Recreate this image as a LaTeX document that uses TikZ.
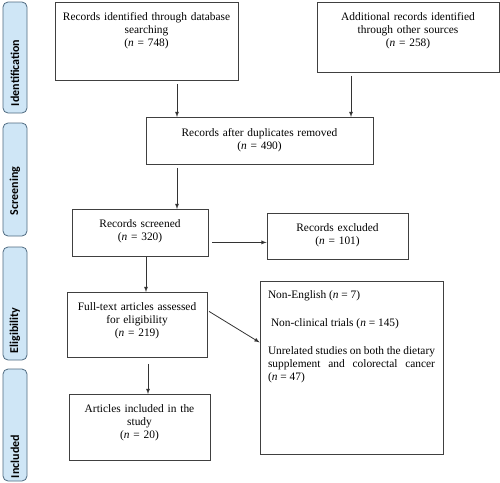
\documentclass[tikz,border=0pt]{standalone}
\usepackage{fontspec}
\setmainfont{Liberation Serif}
\newfontfamily\phasefont{Carlito}
\usepackage{tikz}
\usetikzlibrary{positioning}
\usetikzlibrary{arrows}

\definecolor{phasefill}{HTML}{CFE6F6}
\definecolor{phaseline}{HTML}{4F6A80}
\definecolor{boxline}{HTML}{404040}

\tikzset{
  box/.style={draw=boxline, line width=0.8pt, anchor=north, align=center,
    inner xsep=4pt, inner ysep=4pt, font=\fontsize{11.4}{13}\selectfont},
  phase/.style={draw=phaseline, fill=phasefill, line width=0.8pt,
    rounded corners=5pt, rotate=90, minimum height=24pt, inner ysep=0pt,
    inner xsep=7pt, align=flush left,
    font=\phasefont\bfseries\fontsize{12}{14}\selectfont},
  flow/.style={->, >=latex, draw=black!80, line width=0.8pt},
}

\begin{document}
\begin{tikzpicture}[x=1pt, y=-1pt]
    \useasboundingbox (0,0) rectangle (500,482);

    % Phases
    \node[phase, text width=97pt] (P1) at (15,57.5) {Identification};
    \node[phase, text width=99pt] (P2) at (15,179.5) {\hspace*{14pt}Screening};
    \node[phase, text width=99pt] (P3) at (15,303.5) {Eligibility};
    \node[phase, text width=98pt] (P4) at (15,425) {\hspace*{-4pt}Included};

    % Nodes
    \node[box, text width=175pt, text height=14pt, text depth=56pt] (ident) at (146.5,2)
        {Records identified through database\\searching\\(\textit{n} = 748)};
    \node[box, text width=174pt, text height=14pt, text depth=48pt] (other) at (408,2)
        {Additional records identified\\through other sources\\(\textit{n} = 258)};
    \node[box, text width=219pt, text height=15pt, text depth=24pt] (dupl) at (259.5,117)
        {Records after duplicates removed\\(\textit{n} = 490)};
    \node[box, text width=128pt, text height=14pt, text depth=25pt] (screen) at (140,209)
        {Records screened\\(\textit{n} = 320)};
    \node[box, text width=133pt, text height=14pt, text depth=24pt] (excl) at (337.5,213)
        {Records excluded\\(\textit{n} = 101)};
    \node[box, text width=132pt, text height=14pt, text depth=43pt] (full) at (137,292)
        {Full-text articles assessed\\for eligibility\\(\textit{n} = 219)};
    \node[box, text width=133pt, text height=14pt, text depth=44pt] (incl) at (139.5,394)
        {Articles included in the\\study\\(\textit{n} = 20)};
    \node[box, align=justify, inner xsep=8pt, text width=167pt, text height=13pt, text depth=152pt] (reasons) at (351.5,281)
        {Non-English (\textit{n} = 7)\par\vspace{15pt}
         \hspace*{3pt}Non-clinical trials (\textit{n} = 145)\par\vspace{15pt}
         Unrelated studies on both the dietary\linebreak
         supplement and colorectal cancer\linebreak
         (\textit{n} = 47)};

    % Edges
    \draw[flow, shorten <=3pt] ([xshift=30.5pt]ident.south) -- ([xshift=30.5pt]ident.south |- dupl.north);
    \draw[flow, shorten <=3pt] ([xshift=-57pt]other.south) -- ([xshift=-57pt]other.south |- dupl.north);
    \draw[flow, shorten <=3pt] ([xshift=37pt]screen.north |- dupl.south) -- ([xshift=37pt]screen.north);
    \draw[flow, shorten <=4pt] ([yshift=-9.5pt]screen.east) -- ([yshift=-9.5pt]screen.east -| excl.west);
    \draw[flow] ([xshift=9pt]full.north |- screen.south) -- ([xshift=9pt]full.north);
    \draw[flow, shorten <=6pt] ([xshift=8.5pt]incl.north |- full.south) -- ([xshift=8.5pt]incl.north);
    \draw[flow, shorten <=2pt] ([yshift=14.5pt]full.east) -- ([yshift=25.5pt]reasons.west);
\end{tikzpicture}
\end{document}
